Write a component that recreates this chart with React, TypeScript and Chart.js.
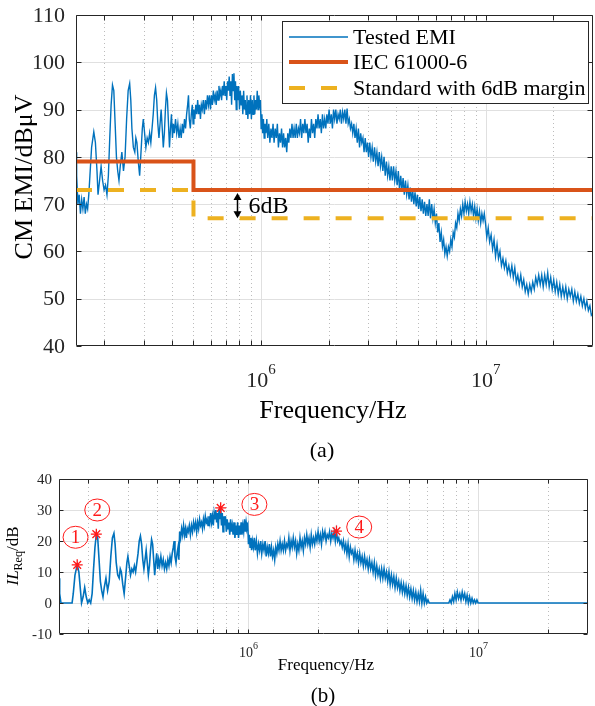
import React, { useEffect, useRef } from "react";
import { Chart, registerables } from "chart.js";

Chart.register(...registerables);

const SERIF = '"Liberation Serif", "Times New Roman", Times, serif';
const INK = "#262626";
const EMI_BLUE = "#0072BD";
const IEC_RED = "#D95319";
const MARGIN_GOLD = "#EDB120";
const MARK_RED = "#ff1a1a";

// ---- Measured CM EMI spectrum (frequency in kHz, level in dBµV) ----
// and the insertion loss still required to reach the 6 dB margin (dB).
const freqA = [
  150, 151, 153, 155, 157, 159, 161, 163, 165, 167,
  169, 171, 173, 176, 180, 183, 186, 188, 191, 194,
  197, 200, 203, 206, 209, 212, 215, 218, 221, 224,
  227, 230, 233, 236, 240, 244, 248, 252, 256, 260,
  263, 266, 270, 274, 277, 280, 284, 288, 292, 296,
  299, 303, 307, 311, 315, 319, 323, 327, 331, 335,
  339, 343, 347, 351, 355, 359, 363, 367, 371, 375,
  379, 383, 387, 391, 395, 399, 403, 407, 411, 416,
  421, 426, 431, 436, 441, 446, 451, 456, 461, 466,
  471, 475, 479, 484, 489, 494, 498,
];
const emiA = [
  81, 76, 70, 72, 68, 71, 69, 71.5, 68, 70,
  69, 72, 76, 82, 85.3, 83, 77, 72, 75, 78,
  75, 73, 74, 72, 76, 84, 91, 95.2, 94, 87,
  80, 77, 75, 78, 81, 77, 80, 88, 94, 95.5,
  92, 86, 82, 81, 84, 83, 79, 76, 81, 86,
  88, 85, 82, 84, 83, 85, 83, 86, 89, 93,
  94.6, 92, 87, 84, 87, 90, 86, 82, 85, 90,
  93.5, 92, 87, 82, 86, 89, 84, 87, 85, 88,
  85, 87, 84, 86, 84, 87, 85, 88, 86, 89,
  91, 93, 88, 86, 89, 91, 87,
];
const ilA = [
  8, 3, 0, 0, 0, 0, 0, 0, 0, 0,
  0, 0, 3, 9, 12.3, 10, 4, 0, 2, 5,
  2, 0, 1, 0, 3, 11, 18, 22.2, 21, 14,
  7, 4, 2, 5, 8, 4, 7, 15, 21, 22.5,
  19, 13, 9, 8, 11, 10, 6, 3, 8, 13,
  15, 12, 9, 11, 10, 12, 10, 13, 16, 20,
  21.6, 19, 14, 11, 14, 17, 13, 9, 12, 17,
  20.5, 19, 14, 9, 13, 16, 11, 14, 12, 15,
  12, 14, 11, 13, 11, 14, 12, 15, 13, 16,
  18, 20, 15, 13, 16, 18, 14,
];

const freqB = [
  502, 507, 512, 517, 522, 527, 532, 537, 542, 547,
  553, 559, 565, 571, 577, 583, 589, 595, 601, 607,
  613, 619, 625, 631, 637, 643, 649, 655, 661, 667,
  673, 679, 685, 691, 697, 703, 709, 715, 721, 727,
  733, 739, 745, 751, 757, 763, 769, 775, 781, 787,
  794, 801, 808, 815, 822, 829, 836, 843, 850, 857,
  865, 873, 881, 889, 897, 905, 913, 921, 929, 937,
  945, 953, 961, 969, 977, 985, 993, 1000,
];
const emiB = [
  90, 88, 91, 89, 92, 89, 91, 88, 91, 90,
  92, 89, 92, 90, 93, 91, 93, 90, 93, 91,
  94, 92, 93, 91, 94, 92, 95, 93, 94, 92,
  95, 93, 96, 93, 95, 92, 96, 94, 97, 93,
  96, 91, 97.5, 94, 97.7, 92, 96, 90, 95, 92,
  95, 90, 94, 91, 93, 89, 94, 90, 92, 89,
  93, 88, 92, 89, 93, 88, 92, 89, 93, 89,
  92, 90, 94, 90, 93, 91, 92, 86,
];
const ilB = [
  23, 21, 24, 22, 25, 22, 24, 21, 24, 23,
  25, 22, 25, 23, 26, 24, 26, 23, 26, 24,
  27, 25, 26, 24, 27, 25, 28, 26, 27, 25,
  28, 26, 29, 26, 28, 25, 29, 27, 30, 26,
  29, 24, 30.5, 27, 30.7, 25, 29, 23, 28, 25,
  28, 23, 27, 24, 26, 22, 27, 23, 25, 22,
  26, 21, 25, 22, 26, 21, 25, 22, 26, 22,
  25, 23, 27, 23, 26, 24, 25, 19,
];

const freqC = [
  1008, 1016, 1024, 1032, 1040, 1050, 1060, 1070, 1082, 1094,
  1106, 1118, 1130, 1142, 1155, 1168, 1181, 1194, 1207, 1220,
  1233, 1246, 1259, 1272, 1286, 1300, 1314, 1328, 1342, 1357,
  1372, 1387, 1402, 1418, 1434, 1450, 1466, 1482, 1498, 1515,
  1532, 1549, 1566, 1584, 1602, 1620, 1638, 1656, 1675, 1694,
  1713, 1732, 1752, 1772, 1792, 1812, 1833, 1854, 1875, 1896,
  1918, 1940, 1962, 1984, 2007, 2030, 2053, 2077, 2101, 2125,
  2150, 2175, 2200, 2226, 2252, 2278, 2304, 2331, 2358, 2385,
  2413, 2441, 2469, 2498, 2527, 2557, 2587, 2617, 2648, 2679,
  2710, 2742, 2774, 2806, 2839, 2872, 2906, 2940, 2974, 3009,
];
const emiC = [
  89, 85, 88, 84, 87, 85, 88, 84, 87, 83,
  86, 84, 87, 83, 86, 84, 87, 82, 85, 83,
  86, 82, 85, 82, 84, 81, 85, 83, 86, 84,
  87, 84, 86, 84, 87, 84, 86, 85, 88, 84,
  87, 85, 88, 85, 87, 83, 86, 84, 88, 85,
  87, 84, 88, 86, 89, 86, 88, 85, 89, 86,
  88, 86, 89, 87, 90, 87, 89, 86, 90, 88,
  90, 87, 89, 88, 90, 87, 89.5, 88, 90, 87,
  90.2, 87, 88, 86, 87, 85, 87, 84, 86, 83,
  86, 82, 85, 83, 84, 81, 84, 81, 83, 80,
];
const ilC = [
  22, 18, 21, 17, 20, 18, 21, 17, 20, 16,
  19, 17, 20, 16, 19, 17, 20, 15, 18, 16,
  19, 15, 18, 15, 17, 14, 18, 16, 19, 17,
  20, 17, 19, 17, 20, 17, 19, 18, 21, 17,
  20, 18, 21, 18, 20, 16, 19, 17, 21, 18,
  20, 17, 21, 19, 22, 19, 21, 18, 22, 19,
  21, 19, 22, 20, 23, 20, 22, 19, 23, 21,
  23, 20, 22, 21, 23, 20, 22.5, 21, 23, 20,
  23.2, 20, 21, 19, 20, 18, 20, 17, 19, 16,
  19, 15, 18, 16, 17, 14, 17, 14, 16, 13,
];

const freqD = [
  3045, 3082, 3120, 3158, 3197, 3236, 3276, 3316, 3357, 3398,
  3440, 3482, 3525, 3568, 3612, 3656, 3701, 3746, 3792, 3839,
  3886, 3934, 3982, 4031, 4081, 4131, 4182, 4233, 4285, 4338,
  4391, 4445, 4500, 4555, 4611, 4668, 4725, 4783, 4842, 4901,
  4961, 5022, 5084, 5147, 5210, 5274, 5339, 5405, 5471, 5538,
  5606, 5675, 5745, 5816, 5888, 5960, 6033, 6107, 6182, 6258,
  6335, 6413, 6492, 6572, 6653, 6735, 6818, 6902, 6987, 7073,
  7160, 7248, 7337, 7427, 7519, 7612, 7706, 7801, 7897, 7994,
  8092, 8192, 8293, 8395, 8499, 8604, 8710, 8817, 8926, 9036,
  9147, 9260, 9375, 9491, 9608, 9726, 9846, 9968, 10100, 10250,
];
const emiD = [
  83, 80, 82, 79, 82, 79, 81, 78, 81, 78,
  80, 77, 80, 76, 79, 76, 78, 75, 78, 75,
  78, 75, 77, 74, 77, 73, 76, 73, 75.5, 72,
  75, 72, 74, 71, 73.5, 70.5, 73, 70, 72.5, 69.5,
  72, 69, 71.5, 68.5, 71, 68, 70.5, 67.5, 70, 67.5,
  71, 67, 70, 67, 69, 66, 68, 64, 66, 62,
  64, 61, 62.5, 59.5, 61, 59, 61, 60, 62.5, 61,
  64, 63, 66, 65, 68, 66.5, 69, 67.5, 70, 68,
  70.5, 68.5, 70, 68, 70.5, 68.5, 70, 67.5, 69.5, 67,
  69, 66.5, 68.5, 66, 68, 66.5, 68, 66, 63, 65,
];
const ilD = [
  16, 13, 15, 12, 15, 12, 14, 11, 14, 11,
  13, 10, 13, 9, 12, 9, 11, 8, 11, 8,
  11, 8, 10, 7, 10, 6, 9, 6, 8.5, 5,
  8, 5, 7, 4, 6.5, 3.5, 6, 3, 5.5, 2.5,
  5, 2, 4.5, 1.5, 4, 1, 3.5, 0.5, 3, 0.5,
  4, 0, 3, 0, 2, 0, 1, 0, 0, 0,
  0, 0, 0, 0, 0, 0, 0, 0, 0, 0,
  0, 0, 0, 0, 1, 0, 2, 0.5, 3, 1,
  3.5, 1.5, 3, 1, 3.5, 1.5, 3, 0.5, 2.5, 0,
  2, 0, 1.5, 0, 1, 0, 1, 0, 0, 0,
];

const freqE = [
  10400, 10560, 10720, 10880, 11050, 11220, 11390, 11560, 11740, 11920,
  12100, 12280, 12470, 12660, 12860, 13060, 13260, 13460, 13670, 13880,
  14090, 14310, 14530, 14750, 14980, 15210, 15450, 15690, 15930, 16180,
  16430, 16680, 16940, 17200, 17470, 17740, 18010, 18290, 18570, 18860,
  19150, 19450, 19750, 20060, 20370, 20690, 21010, 21340, 21670, 22010,
  22350, 22700, 23050, 23410, 23770, 24140, 24520, 24900, 25290, 25680,
  26080, 26490, 26900, 27320, 27740, 28170, 28610, 29060, 29500, 30000,
];
const emiE = [
  62, 63.5, 60.5, 62.5, 59, 61.5, 58.5, 60, 57, 58.5,
  56.5, 58, 55.5, 57, 55, 57, 54.5, 56.5, 53.5, 55,
  53, 55, 52.5, 54, 51.5, 53, 51, 53, 51.5, 53.5,
  52, 54.5, 53, 55, 53, 55, 52.5, 55, 53, 55.5,
  52.5, 54.5, 52, 54, 51.5, 53.5, 51, 53, 50.5, 52.5,
  50.5, 52.5, 50, 52, 50.5, 52, 49.5, 51.5, 49.5, 51,
  49, 50.5, 48.5, 50, 48, 49.5, 47.5, 48.5, 46.5, 47,
];
// Above 10 MHz no further attenuation is required.
const ilTailFreq = [30000];
const ilTail = [0];

// ---- Limit lines ----
const limitFreqKHz = [150, 500, 30000];
const iecLimit = [79, 73, 73];
const marginLimit = [73, 67, 67];
const seriesLabels = ["Tested EMI", "IEC 61000-6", "Standard with 6dB margin"];

// ---- Axes ----
const emiTicks = [40, 50, 60, 70, 80, 90, 100, 110];
const ilTicks = [-10, 0, 10, 20, 30, 40];
const decadeKHz = [1000, 10000];
const decadeExp = ["6", "7"];
const minorKHz = [200, 300, 400, 500, 600, 700, 800, 900, 2000, 3000, 4000, 5000, 6000, 7000, 8000, 9000, 20000];

// ---- Peaks picked out on the insertion-loss curve ----
const markerFreqKHz = [180, 218, 757, 2413];
const markerIL = [12.3, 22.2, 30.7, 23.2];
const tagText = ["1", "2", "3", "4"];
const tagFreqKHz = [177, 220, 1061, 3030];
const tagIL = [21.2, 30, 31.8, 24.5];

const marginArrowKHz = 783;

const pts = (xs: number[], ys: number[]) => xs.map((x, i) => ({ x, y: ys[i] }));
const crisp = (v: number) => Math.round(v) + 0.5;
const font = (size: number, style = "") => `${style} ${size}px ${SERIF}`.trim();

type FrameSpec = {
  yTicks: number[];
  tickLen: number;
  yFont: number;
  yRight: number;
  xFont: number;
  xExpFont: number;
  xBase: number;
  xExpBase: number;
  extra: (chart: any) => void;
};

function framePlugin(spec: FrameSpec) {
  return {
    id: "frame",
    beforeDatasetsDraw(chart: any) {
      const { ctx, chartArea: a, scales } = chart;
      const xs = scales.x;
      const ys = scales.y;
      ctx.save();
      ctx.lineWidth = 1;
      ctx.strokeStyle = "#e0e0e0";
      ctx.beginPath();
      for (const v of spec.yTicks) {
        const y = crisp(ys.getPixelForValue(v));
        if (y <= a.top + 1 || y >= a.bottom - 1) continue;
        ctx.moveTo(a.left, y);
        ctx.lineTo(a.right, y);
      }
      for (const k of decadeKHz) {
        const x = crisp(xs.getPixelForValue(k));
        ctx.moveTo(x, a.top);
        ctx.lineTo(x, a.bottom);
      }
      ctx.stroke();
      ctx.setLineDash([1, 3]);
      ctx.strokeStyle = "#bcbcbc";
      ctx.beginPath();
      for (const k of minorKHz) {
        const x = crisp(xs.getPixelForValue(k));
        ctx.moveTo(x, a.top);
        ctx.lineTo(x, a.bottom);
      }
      ctx.stroke();
      ctx.restore();
    },
    afterDatasetsDraw(chart: any) {
      const { ctx, chartArea: a, scales } = chart;
      const xs = scales.x;
      const ys = scales.y;
      const L = Math.round(a.left) + 0.5;
      const R = Math.round(a.right) - 0.5;
      const T = Math.round(a.top) + 0.5;
      const B = Math.round(a.bottom) - 0.5;
      const t = spec.tickLen;
      ctx.save();
      ctx.strokeStyle = INK;
      ctx.lineWidth = 1;
      ctx.beginPath();
      ctx.rect(L, T, R - L, B - T);
      for (const v of spec.yTicks) {
        const y = crisp(ys.getPixelForValue(v));
        ctx.moveTo(L, y);
        ctx.lineTo(L + t, y);
        ctx.moveTo(R, y);
        ctx.lineTo(R - t, y);
      }
      for (const k of [...decadeKHz, ...minorKHz]) {
        const x = crisp(xs.getPixelForValue(k));
        ctx.moveTo(x, B);
        ctx.lineTo(x, B - t);
        ctx.moveTo(x, T);
        ctx.lineTo(x, T + t);
      }
      ctx.stroke();

      ctx.fillStyle = INK;
      ctx.font = font(spec.yFont);
      ctx.textAlign = "right";
      ctx.textBaseline = "middle";
      for (const v of spec.yTicks) {
        ctx.fillText(String(v), spec.yRight, ys.getPixelForValue(v) + 1);
      }
      ctx.textAlign = "left";
      ctx.textBaseline = "alphabetic";
      decadeKHz.forEach((k, i) => {
        const x = xs.getPixelForValue(k);
        ctx.font = font(spec.xFont);
        const w1 = ctx.measureText("10").width;
        ctx.font = font(spec.xExpFont);
        const w2 = ctx.measureText(decadeExp[i]).width;
        const x0 = x - (w1 + w2) / 2;
        ctx.font = font(spec.xFont);
        ctx.fillText("10", x0, spec.xBase);
        ctx.font = font(spec.xExpFont);
        ctx.fillText(decadeExp[i], x0 + w1, spec.xExpBase);
      });
      ctx.restore();
      ctx.save();
      spec.extra(chart);
      ctx.restore();
    },
  };
}

function drawArrowHead(ctx: CanvasRenderingContext2D, x: number, y: number, dir: number) {
  ctx.beginPath();
  ctx.moveTo(x, y);
  ctx.lineTo(x - 4, y + dir * 7);
  ctx.lineTo(x + 4, y + dir * 7);
  ctx.closePath();
  ctx.fill();
}

function drawTopExtras(chart: any) {
  const { ctx, scales } = chart;
  const xs = scales.x;
  const ys = scales.y;

  // axis titles and caption
  ctx.fillStyle = "#000";
  ctx.font = font(26);
  ctx.textAlign = "center";
  ctx.textBaseline = "alphabetic";
  ctx.fillText("Frequency/Hz", 333, 418);
  ctx.save();
  ctx.translate(32, 177);
  ctx.rotate(-Math.PI / 2);
  ctx.fillText("CM EMI/dBμV", 0, 0);
  ctx.restore();
  ctx.font = font(22);
  ctx.textBaseline = "middle";
  ctx.fillText("(a)", 322, 451);

  // 6 dB margin marker between the two limit lines
  const ax = Math.round(xs.getPixelForValue(marginArrowKHz)) + 0.5;
  const yTop = ys.getPixelForValue(iecLimit[1]) + 3;
  const yBot = ys.getPixelForValue(marginLimit[1]);
  ctx.strokeStyle = "#000";
  ctx.fillStyle = "#000";
  ctx.lineWidth = 1.5;
  ctx.beginPath();
  ctx.moveTo(ax, yTop + 5);
  ctx.lineTo(ax, yBot - 5);
  ctx.stroke();
  drawArrowHead(ctx, ax, yTop, 1);
  drawArrowHead(ctx, ax, yBot, -1);
  ctx.font = font(24);
  ctx.textAlign = "left";
  ctx.textBaseline = "middle";
  ctx.fillText(`${iecLimit[1] - marginLimit[1]}dB`, ax + 11, (yTop + yBot) / 2 + 1);

  // legend
  const lx = 282;
  const ly = 21;
  const lw = 306;
  const lh = 82;
  ctx.fillStyle = "#fff";
  ctx.fillRect(lx, ly, lw, lh);
  ctx.strokeStyle = INK;
  ctx.lineWidth = 1;
  ctx.strokeRect(lx + 0.5, ly + 0.5, lw, lh);
  const styles = [
    { color: EMI_BLUE, width: 1.3, dash: [] as number[] },
    { color: IEC_RED, width: 4, dash: [] as number[] },
    { color: MARGIN_GOLD, width: 4, dash: [16, 16] },
  ];
  const rowY = [37, 62, 88];
  seriesLabels.forEach((label, i) => {
    const s = styles[i];
    ctx.save();
    ctx.strokeStyle = s.color;
    ctx.lineWidth = s.width;
    ctx.setLineDash(s.dash);
    ctx.beginPath();
    ctx.moveTo(289, rowY[i]);
    ctx.lineTo(348, rowY[i]);
    ctx.stroke();
    ctx.restore();
    ctx.fillStyle = "#000";
    ctx.font = font(22);
    ctx.textAlign = "left";
    ctx.textBaseline = "middle";
    ctx.fillText(label, 353, rowY[i] + 1);
  });
}

function drawBottomExtras(chart: any) {
  const { ctx, scales } = chart;
  const xs = scales.x;
  const ys = scales.y;

  ctx.fillStyle = "#000";
  ctx.font = font(17);
  ctx.textAlign = "center";
  ctx.textBaseline = "alphabetic";
  ctx.fillText("Frequency/Hz", 326, 200);
  ctx.font = font(21);
  ctx.textBaseline = "middle";
  ctx.fillText("(b)", 323, 226);

  // rotated y title: IL_Req/dB
  ctx.save();
  ctx.translate(18, 86);
  ctx.rotate(-Math.PI / 2);
  ctx.textAlign = "left";
  ctx.textBaseline = "alphabetic";
  ctx.font = font(17, "italic");
  const w1 = ctx.measureText("IL").width;
  ctx.font = font(12);
  const w2 = ctx.measureText("Req").width;
  ctx.font = font(17);
  const w3 = ctx.measureText("/dB").width;
  let x = -(w1 + w2 + w3) / 2;
  ctx.font = font(17, "italic");
  ctx.fillText("IL", x, 0);
  x += w1;
  ctx.font = font(12);
  ctx.fillText("Req", x, 4);
  x += w2;
  ctx.font = font(17);
  ctx.fillText("/dB", x, 0);
  ctx.restore();

  // circled peak numbers
  ctx.strokeStyle = MARK_RED;
  ctx.fillStyle = MARK_RED;
  ctx.lineWidth = 1;
  tagText.forEach((tag, i) => {
    const cx = xs.getPixelForValue(tagFreqKHz[i]);
    const cy = ys.getPixelForValue(tagIL[i]);
    ctx.beginPath();
    ctx.ellipse(cx, cy, 12.5, 11, 0, 0, Math.PI * 2);
    ctx.stroke();
    ctx.font = font(19);
    ctx.textAlign = "center";
    ctx.textBaseline = "middle";
    ctx.fillText(tag, cx, cy + 1);
  });
}

export default function App() {
  const topRef = useRef<HTMLCanvasElement>(null);
  const botRef = useRef<HTMLCanvasElement>(null);

  useEffect(() => {
    const emi = [
      ...pts(freqA, emiA),
      ...pts(freqB, emiB),
      ...pts(freqC, emiC),
      ...pts(freqD, emiD),
      ...pts(freqE, emiE),
    ];
    const il = [
      ...pts(freqA, ilA),
      ...pts(freqB, ilB),
      ...pts(freqC, ilC),
      ...pts(freqD, ilD),
      ...pts(ilTailFreq, ilTail),
    ];

    const common = {
      responsive: false,
      animation: false as const,
      devicePixelRatio: 1,
      events: [] as any[],
      plugins: { legend: { display: false }, tooltip: { enabled: false } },
    };

    const top = new Chart(topRef.current!, {
      type: "line",
      data: {
        datasets: [
          {
            label: seriesLabels[0],
            data: emi,
            borderColor: EMI_BLUE,
            borderWidth: 1.4,
            pointRadius: 0,
            tension: 0,
            order: 3,
          },
          {
            label: seriesLabels[1],
            data: pts(limitFreqKHz, iecLimit),
            borderColor: IEC_RED,
            borderWidth: 4,
            pointRadius: 0,
            stepped: "before",
            order: 2,
          },
          {
            label: seriesLabels[2],
            data: pts(limitFreqKHz, marginLimit),
            borderColor: MARGIN_GOLD,
            borderWidth: 4,
            borderDash: [16, 16],
            pointRadius: 0,
            stepped: "before",
            order: 1,
          },
        ],
      },
      options: {
        ...common,
        layout: { padding: { left: 76, right: 2, top: 15, bottom: 124 } },
        scales: {
          x: { type: "logarithmic", min: 150, max: 30000, display: false },
          y: { type: "linear", min: 40, max: 110, display: false },
        },
      },
      plugins: [
        framePlugin({
          yTicks: emiTicks,
          tickLen: 5,
          yFont: 22,
          yRight: 65,
          xFont: 22,
          xExpFont: 15,
          xBase: 387,
          xExpBase: 374,
          extra: drawTopExtras,
        }),
      ],
    } as any);

    const bot = new Chart(botRef.current!, {
      type: "line",
      data: {
        datasets: [
          {
            label: "IL_Req",
            data: il,
            borderColor: EMI_BLUE,
            borderWidth: 1.6,
            pointRadius: 0,
            tension: 0,
            order: 2,
          },
          {
            label: "peaks",
            data: pts(markerFreqKHz, markerIL),
            showLine: false,
            pointStyle: "star",
            pointRadius: 5.5,
            pointBorderColor: MARK_RED,
            pointBackgroundColor: MARK_RED,
            pointBorderWidth: 1.3,
            order: 1,
          },
        ],
      },
      options: {
        ...common,
        layout: { padding: { left: 59, right: 1, top: 9, bottom: 72 } },
        scales: {
          x: { type: "logarithmic", min: 150, max: 30000, display: false },
          y: { type: "linear", min: -10, max: 40, display: false },
        },
      },
      plugins: [
        framePlugin({
          yTicks: ilTicks,
          tickLen: 4,
          yFont: 15,
          yRight: 52,
          xFont: 14,
          xExpFont: 10,
          xBase: 187,
          xExpBase: 179,
          extra: drawBottomExtras,
        }),
      ],
    } as any);

    return () => {
      top.destroy();
      bot.destroy();
    };
  }, []);

  return (
    <div
      style={{
        position: "absolute",
        left: 0,
        top: 0,
        width: 595,
        height: 706,
        background: "#fff",
      }}
    >
      <canvas
        ref={topRef}
        width={595}
        height={470}
        style={{ position: "absolute", left: 0, top: 0, width: 595, height: 470 }}
      />
      <canvas
        ref={botRef}
        width={595}
        height={236}
        style={{ position: "absolute", left: 0, top: 470, width: 595, height: 236 }}
      />
    </div>
  );
}
